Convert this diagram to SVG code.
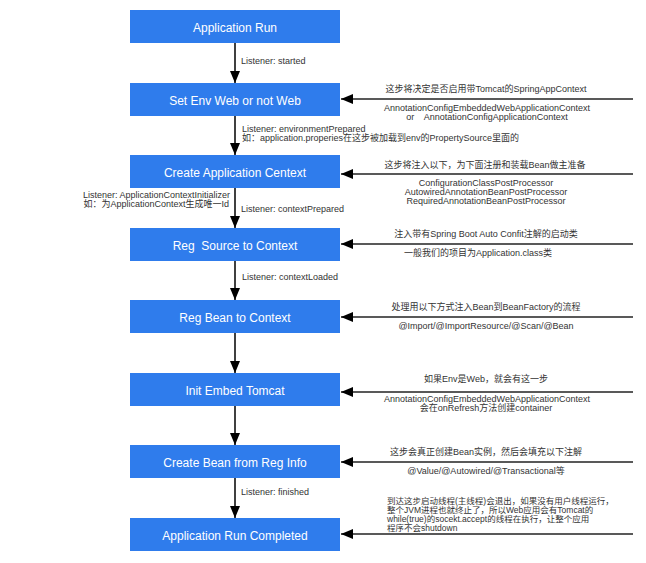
<svg xmlns="http://www.w3.org/2000/svg" width="646" height="563" viewBox="0 0 646 563">
<style>
.box{fill:#2f7cec;}
.bl{font-family:"Liberation Sans",Arial,sans-serif;font-size:12px;fill:#ffffff;text-anchor:middle;white-space:pre;}
.t{font-family:"Liberation Sans","Noto Sans CJK SC",sans-serif;font-size:9px;fill:#333333;white-space:pre;}
.s{font-size:8.5px;}
.m{text-anchor:middle;}
.e{text-anchor:end;}
.v{stroke:#000;stroke-width:1.5;fill:none;}
.h{stroke:#595959;stroke-width:2;fill:none;}
</style>
<defs>
<marker id="av" markerUnits="userSpaceOnUse" markerWidth="12" markerHeight="12" viewBox="0 0 12 12" refX="12" refY="6" orient="auto">
<path d="M0,1 L12,6 L0,11 Z" fill="#000"/>
</marker>
</defs>
<rect width="646" height="563" fill="#ffffff"/>
<g id="n1"><rect class="box" x="130" y="10" width="210" height="33"/><text class="bl" x="235" y="32">Application Run</text></g>
<g id="n2"><rect class="box" x="130" y="83" width="210" height="33"/><text class="bl" x="235" y="105">Set Env Web or not Web</text></g>
<g id="n3"><rect class="box" x="130" y="155" width="210" height="33"/><text class="bl" x="235" y="177">Create Application Centext</text></g>
<g id="n4"><rect class="box" x="130" y="228" width="210" height="33"/><text class="bl" x="235" y="250" xml:space="preserve">Reg  Source to Context</text></g>
<g id="n5"><rect class="box" x="130" y="300" width="210" height="33"/><text class="bl" x="235" y="322">Reg Bean to Context</text></g>
<g id="n6"><rect class="box" x="130" y="373" width="210" height="33"/><text class="bl" x="235" y="395">Init Embed Tomcat</text></g>
<g id="n7"><rect class="box" x="130" y="445" width="210" height="33"/><text class="bl" x="235" y="467">Create Bean from Reg Info</text></g>
<g id="n8"><rect class="box" x="130" y="518" width="210" height="33"/><text class="bl" x="235" y="540">Application Run Completed</text></g>
<g id="connectors">
<line class="v" x1="235" y1="43" x2="235" y2="83" marker-end="url(#av)"/>
<line class="v" x1="235" y1="116" x2="235" y2="155" marker-end="url(#av)"/>
<line class="v" x1="235" y1="188" x2="235" y2="228" marker-end="url(#av)"/>
<line class="v" x1="235" y1="261" x2="235" y2="300" marker-end="url(#av)"/>
<line class="v" x1="235" y1="333" x2="235" y2="373" marker-end="url(#av)"/>
<line class="v" x1="235" y1="406" x2="235" y2="445" marker-end="url(#av)"/>
<line class="v" x1="235" y1="478" x2="235" y2="518" marker-end="url(#av)"/>
<line class="h" x1="633" y1="99" x2="341" y2="99" marker-end="url(#av)"/>
<line class="h" x1="633" y1="174" x2="341" y2="174" marker-end="url(#av)"/>
<line class="h" x1="633" y1="244" x2="341" y2="244" marker-end="url(#av)"/>
<line class="h" x1="633" y1="317" x2="341" y2="317" marker-end="url(#av)"/>
<line class="h" x1="633" y1="392" x2="341" y2="392" marker-end="url(#av)"/>
<line class="h" x1="633" y1="462" x2="341" y2="462" marker-end="url(#av)"/>
<line class="h" x1="633" y1="534" x2="341" y2="534" marker-end="url(#av)"/>
</g>
<g id="labels">
<text class="t" x="241" y="64">Listener: started</text>
<text class="t m" x="486" y="92">这步将决定是否启用带Tomcat的SpringAppContext</text>
<text class="t m" x="487" y="111">AnnotationConfigEmbeddedWebApplicationContext</text>
<text class="t m" x="487" y="120" xml:space="preserve">or    AnnotationConfigApplicationContext</text>
<text class="t" x="242" y="132">Listener: environmentPrepared</text>
<text class="t" x="242" y="141">如：application.properies在这步被加载到env的PropertySource里面的</text>
<text class="t m" x="485" y="168">这步将注入以下，为下面注册和装载Bean做主准备</text>
<text class="t m" x="486" y="186">ConfigurationClassPostProcessor</text>
<text class="t m" x="486" y="195">AutowiredAnnotationBeanPostProcessor</text>
<text class="t m" x="486" y="204">RequiredAnnotationBeanPostProcessor</text>
<text class="t e" x="230" y="198">Listener: ApplicationContextInitializer</text>
<text class="t e" x="229" y="207">如：为ApplicationContext生成唯一Id</text>
<text class="t" x="241" y="212">Listener: contextPrepared</text>
<text class="t m" x="486" y="237">注入带有Spring Boot Auto Confit注解的启动类</text>
<text class="t m" x="478" y="256">一般我们的项目为Application.class类</text>
<text class="t" x="242" y="280">Listener: contextLoaded</text>
<text class="t m" x="486" y="310">处理用以下方式注入Bean到BeanFactory的流程</text>
<text class="t m" x="486" y="329">@Import/@ImportResource/@Scan/@Bean</text>
<text class="t m" x="486" y="382">如果Env是Web，就会有这一步</text>
<text class="t m" x="487" y="402">AnnotationConfigEmbeddedWebApplicationContext</text>
<text class="t m" x="486" y="411">会在onRefresh方法创建container</text>
<text class="t m" x="486" y="455">这步会真正创建Bean实例，然后会填充以下注解</text>
<text class="t m" x="486" y="474">@Value/@Autowired/@Transactional等</text>
<text class="t" x="241" y="495">Listener: finished</text>
<text class="t s" x="387" y="504">到达这步启动线程(主线程)会退出，如果没有用户线程运行，</text>
<text class="t s" x="387" y="513">整个JVM进程也就终止了，所以Web应用会有Tomcat的</text>
<text class="t s" x="387" y="522">while(true)的socekt.accept的线程在执行，让整个应用</text>
<text class="t s" x="387" y="531">程序不会shutdown</text>
</g>
</svg>
